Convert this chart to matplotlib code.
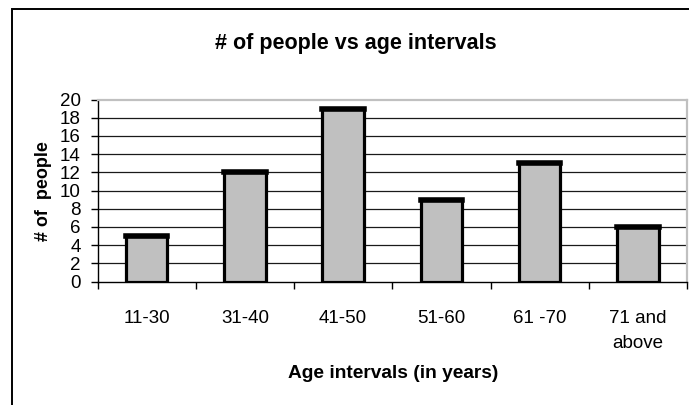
import matplotlib
matplotlib.use("Agg")
import matplotlib.pyplot as plt
from matplotlib.patches import Rectangle
import numpy as np

categories = ["11-30", "31-40", "41-50", "51-60", "61 -70", "71 and\nabove"]
people = [5, 12, 19, 9, 13, 6]
y_ticks = list(range(0, 21, 2))

plt.rcParams["font.family"] = ["Liberation Sans", "DejaVu Sans"]

W, H = 689, 405
fig = plt.figure(figsize=(W / 100, H / 100), dpi=100)

# plot area in pixel coordinates
left, right, top, bottom = 97.5, 687.0, 99.5, 281.5
ax = fig.add_axes([left / W, 1 - bottom / H, (right - left) / W, (bottom - top) / H])

x = np.arange(len(categories))
bar_w = 0.42
ax.set_xlim(-0.5, len(categories) - 0.5)
ax.set_ylim(0, 20)

# horizontal gridlines
for v in y_ticks[1:-1]:
    ax.axhline(v, color="#1a1a1a", lw=0.9, zorder=1)

bars = ax.bar(x, people, width=bar_w, color="#c0c0c0", edgecolor="black",
              linewidth=2.3, zorder=3)
# heavier cap along the top of each bar
ax.hlines(people, x - bar_w / 2, x + bar_w / 2, colors="black", lw=4.0,
          zorder=4, capstyle="projecting")

for side in ("top", "right"):
    ax.spines[side].set_color("#c0c0c0")
    ax.spines[side].set_linewidth(1.6)
ax.spines["left"].set_color("black")
ax.spines["bottom"].set_color("black")
ax.spines["left"].set_linewidth(1.0)
ax.spines["bottom"].set_linewidth(1.0)

ax.set_yticks(y_ticks)
ax.set_yticklabels([str(v) for v in y_ticks], fontsize=13.5)
ax.tick_params(axis="y", direction="out", length=5, width=1, pad=7)

# category labels centred, ticks on category boundaries
ax.set_xticks(np.arange(len(categories) + 1) - 0.5)
ax.set_xticklabels([""] * (len(categories) + 1))
ax.tick_params(axis="x", direction="out", length=5, width=1)
for xi, lab in zip(x, categories):
    ax.text(xi, -3.1, lab, ha="center", va="top", fontsize=13.5,
            linespacing=1.6, transform=ax.transData, clip_on=False)

fig.text(44 / W, 1 - 191 / H, "# of  people", rotation=90, ha="center",
         va="center", fontsize=13, fontweight="bold")
fig.text(393 / W, 1 - 373 / H, "Age intervals (in years)", ha="center",
         va="center", fontsize=13.8, fontweight="bold")
fig.text(356 / W, 1 - 43 / H, "# of people vs age intervals", ha="center",
         va="center", fontsize=15.5, fontweight="bold")

# chart frame
fig.patches.append(Rectangle((11.5 / W, -0.1), 1.2, 1 - 9.5 / H + 0.1,
                             transform=fig.transFigure, fill=False,
                             edgecolor="black", linewidth=1.4))

fig.savefig("out.png", dpi=100)
